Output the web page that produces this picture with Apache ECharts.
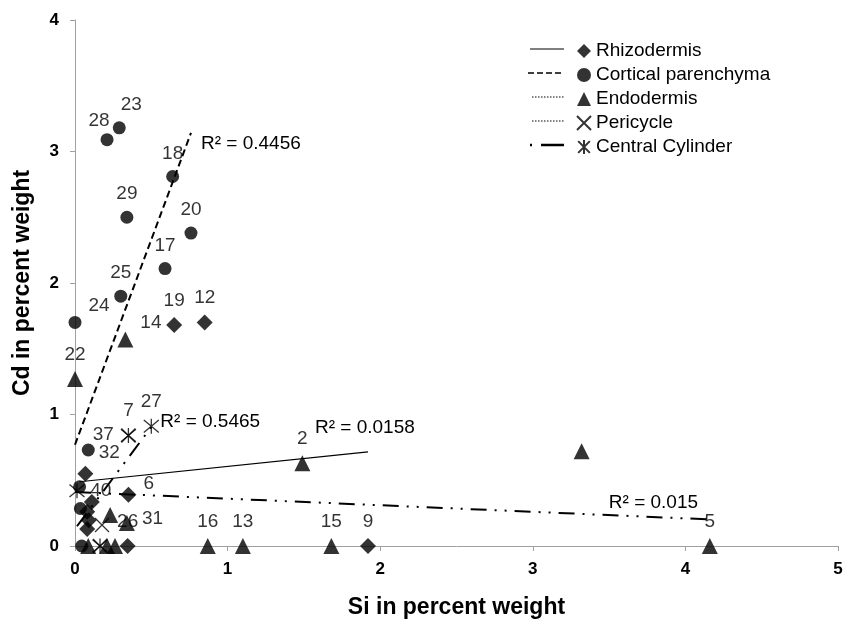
<!DOCTYPE html>
<html><head><meta charset="utf-8">
<script src="https://cdn.jsdelivr.net/npm/echarts@6/dist/echarts.min.js"></script>
<style>html,body{margin:0;padding:0;background:#fff}#c{width:853px;height:620px}</style>
</head><body><div id="c"></div>
<script>
// ---------- data ----------
const seriesNames = ['Rhizodermis', 'Cortical parenchyma', 'Endodermis', 'Pericycle', 'Central Cylinder'];

const rhizoX   = [0.65, 0.85, 0.35, 1.92, 0.345, 0.068, 0.11, 0.08, 0.09, 0.08];
const rhizoY   = [1.68, 1.70, 0.39, 0.00, 0.00, 0.55, 0.335, 0.26, 0.195, 0.13];
const rhizoLbl = ['19', '12', '6', '9', '26', '', '', '', '', ''];

const cortX   = [0.29, 0.21, 0.64, 0.34, 0.76, 0.59, 0.30, 0.00, 0.087, 0.035, 0.03, 0.044];
const cortY   = [3.18, 3.09, 2.81, 2.50, 2.38, 2.11, 1.90, 1.70, 0.73, 0.285, 0.45, 0.00];
const cortLbl = ['23', '28', '18', '29', '20', '17', '25', '24', '32', '', '', ''];

const endoX   = [0.33, 0.00, 1.49, 3.32, 4.16, 0.87, 1.10, 1.68, 0.34, 0.23, 0.087, 0.21, 0.262];
const endoY   = [1.57, 1.27, 0.63, 0.72, 0.00, 0.00, 0.00, 0.00, 0.175, 0.235, 0.00, 0.00, 0.00];
const endoLbl = ['14', '22', '2', '', '5', '16', '13', '15', '31', '', '', '', ''];

const periX   = [0.35, 0.177, 0.164];
const periY   = [0.84, 0.16, 0.00];
const periLbl = ['37', '', ''];

const centX   = [0.35, 0.50, 0.013, 0.164];
const centY   = [0.84, 0.91, 0.42, 0.00];
const centLbl = ['7', '27', '40', ''];

const xTicks = [0, 1, 2, 3, 4, 5];
const yTicks = [0, 1, 2, 3, 4];

// linear trend lines
const trendOf        = ['Rhizodermis', 'Cortical parenchyma', 'Endodermis', 'Central Cylinder'];
const trendSlope     = [0.12, 3.12, -0.05, 1.55];
const trendIntercept = [0.485, 0.77, 0.41, 0.13];
const trendXMin      = [0.03, 0.0, 0.0, 0.013];
const trendXMax      = [1.92, 0.76, 4.16, 0.50];
const trendR2        = ['R² = 0.0158', 'R² = 0.4456', 'R² = 0.015', 'R² = 0.5465'];

// ---------- styles ----------
const FONT = "'Liberation Sans', Arial, sans-serif";
const X_PATH = 'path://M0,0L10,10M10,0L0,10';
const STAR_PATH = 'path://M0,0L10,10M10,0L0,10M5,-1L5,11';
const symbolStyle = {
  'Rhizodermis': {symbol: 'diamond', size: 16},
  'Cortical parenchyma': {symbol: 'circle', size: 13},
  'Endodermis': {symbol: 'triangle', size: 16},
  'Pericycle': {symbol: X_PATH, size: 14},
  'Central Cylinder': {symbol: STAR_PATH, size: 15}
};
const labelPlace = {
  '23': ['top', [12, 0]], '28': ['top', [-8, 4]], '24': ['right', [0, -17]],
  '14': ['right', [0, -17]], '6': ['right', [0, -11]], '32': ['right', [-3, 3]],
  '40': ['right', [-2, 0]], '31': ['right', [0, -4]], '37': ['left', [0, -1]]
};
const trendLine = {
  'Rhizodermis': {type: 'solid', width: 1.2},
  'Cortical parenchyma': {type: [7, 4], width: 2},
  'Endodermis': {type: [16, 8, 2, 8, 2, 8], width: 2},
  'Central Cylinder': {type: [16, 8, 2, 8, 2, 8], width: 2}
};
const r2Offset = {
  'Rhizodermis': [-58, -24],
  'Cortical parenchyma': [5, 11],
  'Endodermis': [-106, -17],
  'Central Cylinder': [4, -5]
};

function pts(xs, ys, lbls) {
  return xs.map((x, i) => {
    const lab = lbls[i];
    const item = {value: [x, ys[i]], name: lab};
    if (lab) {
      const p = labelPlace[lab] || ['top', [0, 0]];
      item.label = {show: true, position: p[0], offset: p[1]};
    }
    return item;
  });
}
const groups = [
  [rhizoX, rhizoY, rhizoLbl], [cortX, cortY, cortLbl], [endoX, endoY, endoLbl],
  [periX, periY, periLbl], [centX, centY, centLbl]
];

const series = [];
trendOf.forEach((nm, i) => {
  const x0 = trendXMin[i], x1 = trendXMax[i];
  series.push({
    name: nm + ' trend', type: 'line', silent: true, showSymbol: false, symbol: 'none',
    data: [[x0, trendIntercept[i] + trendSlope[i] * x0], [x1, trendIntercept[i] + trendSlope[i] * x1]],
    lineStyle: {color: '#000', type: trendLine[nm].type, width: trendLine[nm].width},
    endLabel: {show: true, formatter: trendR2[i], color: '#000', fontSize: 19, fontFamily: FONT,
               distance: 5, offset: r2Offset[nm]},
    z: 2
  });
});
seriesNames.forEach((nm, i) => {
  const g = groups[i];
  series.push({
    name: nm, type: 'scatter',
    symbol: symbolStyle[nm].symbol, symbolSize: symbolStyle[nm].size,
    itemStyle: {color: '#000', borderColor: '#000', borderWidth: (i >= 3 ? 1.3 : 0)},
    label: {show: false, formatter: p => p.name, color: '#000', fontSize: 19, fontFamily: FONT, distance: 7},
    data: pts(g[0], g[1], g[2]),
    z: 3
  });
});

const chart = echarts.init(document.getElementById('c'), null, {renderer: 'canvas'});
const axisCommon = {
  type: 'value', nameLocation: 'middle',
  nameTextStyle: {fontSize: 23, fontWeight: 'bold', color: '#000', fontFamily: FONT},
  axisLine: {show: true, lineStyle: {color: '#a0a0a0', width: 1}},
  axisTick: {show: true, length: 5, lineStyle: {color: '#a0a0a0'}},
  splitLine: {show: false},
  axisLabel: {fontSize: 17, fontWeight: 'bold', color: '#000', fontFamily: FONT}
};
const legY0 = 49, legGap = 24;
const legendSamples = [
  {dash: null, w: 1.2, x0: 530},
  {dash: [6, 3], w: 1.5, x0: 528},
  {dash: [1.5, 1.5], w: 1, x0: 532},
  {dash: [1.5, 1.5], w: 1, x0: 532},
  {dash: [2, 9, 24], w: 2.5, x0: 530}
];
chart.setOption({
  animation: false,
  backgroundColor: '#fff',
  grid: {left: 75, right: 15, top: 20, bottom: 74, containLabel: false, outerBoundsMode: 'none'},
  xAxis: Object.assign({}, axisCommon, {
    min: xTicks[0], max: xTicks[xTicks.length - 1], interval: 1,
    name: 'Si in percent weight', nameGap: 50,
    axisLabel: Object.assign({}, axisCommon.axisLabel, {margin: 15})
  }),
  yAxis: Object.assign({}, axisCommon, {
    min: yTicks[0], max: yTicks[yTicks.length - 1], interval: 1,
    name: 'Cd in percent weight', nameGap: 41,
    axisLabel: Object.assign({}, axisCommon.axisLabel, {margin: 16})
  }),
  legend: {
    data: seriesNames, orient: 'vertical', left: 571, top: legY0 - 13,
    itemWidth: 14, itemHeight: 14, itemGap: 4,
    textStyle: {fontSize: 19, color: '#000', fontFamily: FONT, lineHeight: 20},
    selectedMode: false
  },
  graphic: legendSamples.map((s, i) => ({
    type: 'line', silent: true,
    shape: {x1: s.x0, y1: legY0 + i * legGap, x2: 564, y2: legY0 + i * legGap},
    style: {stroke: '#000', lineWidth: s.w, lineDash: s.dash}
  })),
  series: series
});
</script>
</body></html>
